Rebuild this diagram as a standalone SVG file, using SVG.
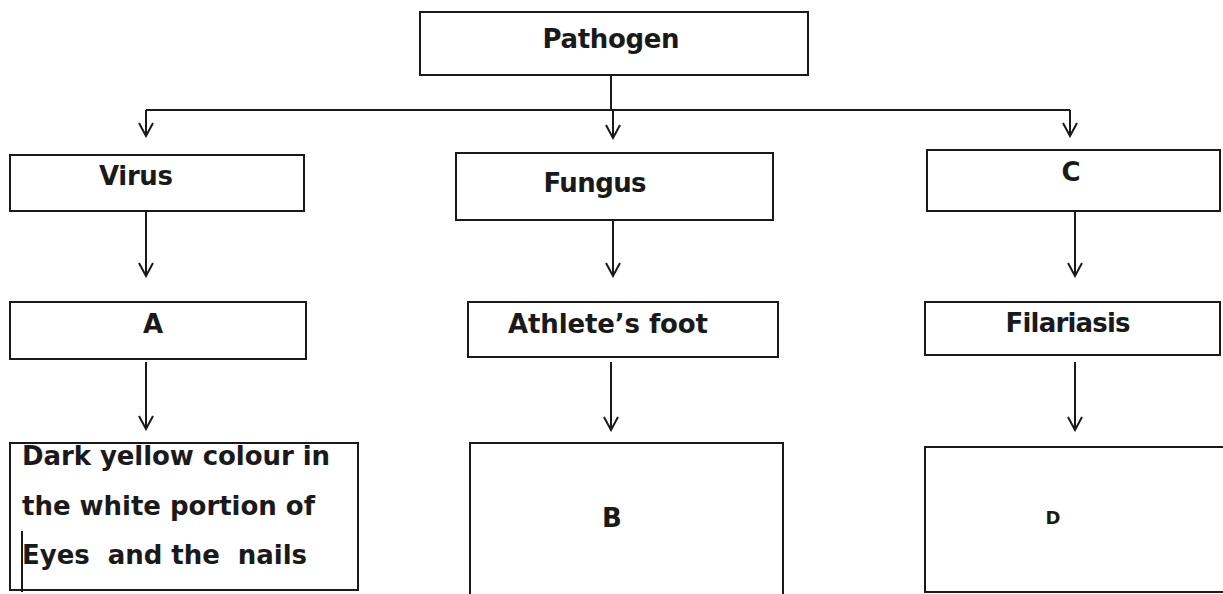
<svg xmlns="http://www.w3.org/2000/svg" width="1223" height="594" viewBox="0 0 1223 594">
<style>
.box{fill:#fff;stroke:#1a1a1a;stroke-width:2}
.t{font-family:"DejaVu Sans","Liberation Sans",sans-serif;font-weight:bold;font-size:26px;fill:#1a1a1a;white-space:pre}
.c{stroke:#1a1a1a;stroke-width:2;fill:none}
</style>
<defs>
<marker id="ah" markerWidth="18" markerHeight="18" viewBox="0 0 18 18" refX="16" refY="9" orient="auto" markerUnits="userSpaceOnUse">
<polyline points="3,2 16,9 3,16" fill="none" stroke="#1a1a1a" stroke-width="2"/>
</marker>
</defs>
<rect width="1223" height="594" fill="#fff"/>
<g id="connectors">
<line class="c" x1="611" y1="75" x2="611" y2="110"/>
<line class="c" x1="146" y1="110" x2="1070" y2="110"/>
<line class="c" x1="146" y1="110" x2="146" y2="136" marker-end="url(#ah)"/>
<line class="c" x1="613" y1="110" x2="613" y2="138" marker-end="url(#ah)"/>
<line class="c" x1="1070" y1="110" x2="1070" y2="136" marker-end="url(#ah)"/>
<line class="c" x1="146" y1="211" x2="146" y2="276" marker-end="url(#ah)"/>
<line class="c" x1="613" y1="220" x2="613" y2="276" marker-end="url(#ah)"/>
<line class="c" x1="1075" y1="211" x2="1075" y2="276" marker-end="url(#ah)"/>
<line class="c" x1="146" y1="362" x2="146" y2="429" marker-end="url(#ah)"/>
<line class="c" x1="611" y1="362" x2="611" y2="430" marker-end="url(#ah)"/>
<line class="c" x1="1075" y1="362" x2="1075" y2="430" marker-end="url(#ah)"/>
</g>
<g id="pathogen"><rect class="box" x="420" y="12" width="388" height="63"/><text class="t" x="611" y="48" text-anchor="middle" textLength="137">Pathogen</text></g>
<g id="virus"><rect class="box" x="10" y="155" width="294" height="56"/><text class="t" x="136" y="185" text-anchor="middle" textLength="74">Virus</text></g>
<g id="fungus"><rect class="box" x="456" y="153" width="317" height="67"/><text class="t" x="595" y="192" text-anchor="middle" textLength="103">Fungus</text></g>
<g id="c"><rect class="box" x="927" y="150" width="293" height="61"/><text class="t" x="1071" y="181" text-anchor="middle">C</text></g>
<g id="a"><rect class="box" x="10" y="302" width="296" height="57"/><text class="t" x="153" y="333" text-anchor="middle">A</text></g>
<g id="athlete"><rect class="box" x="468" y="302" width="310" height="55"/><text class="t" x="608" y="333" text-anchor="middle" textLength="200">Athlete’s foot</text></g>
<g id="filariasis"><rect class="box" x="925" y="302" width="295" height="53"/><text class="t" x="1068" y="332" text-anchor="middle" textLength="125">Filariasis</text></g>
<g id="symptom"><rect class="box" x="10" y="443" width="348" height="147"/>
<text class="t" x="22" y="465" textLength="308">Dark yellow colour in</text>
<text class="t" x="22" y="515" textLength="293">the white portion of</text>
<text class="t" x="22" y="564" textLength="285">Eyes  and the  nails</text>
<line class="c" x1="22" y1="531" x2="22" y2="592"/></g>
<g id="b"><rect class="box" x="470" y="443" width="313" height="160"/><text class="t" x="612" y="527" text-anchor="middle">B</text></g>
<g id="d"><rect class="box" x="925" y="447" width="305" height="145"/><text class="t" x="1053" y="524" text-anchor="middle" style="font-size:18px">D</text></g>
</svg>
